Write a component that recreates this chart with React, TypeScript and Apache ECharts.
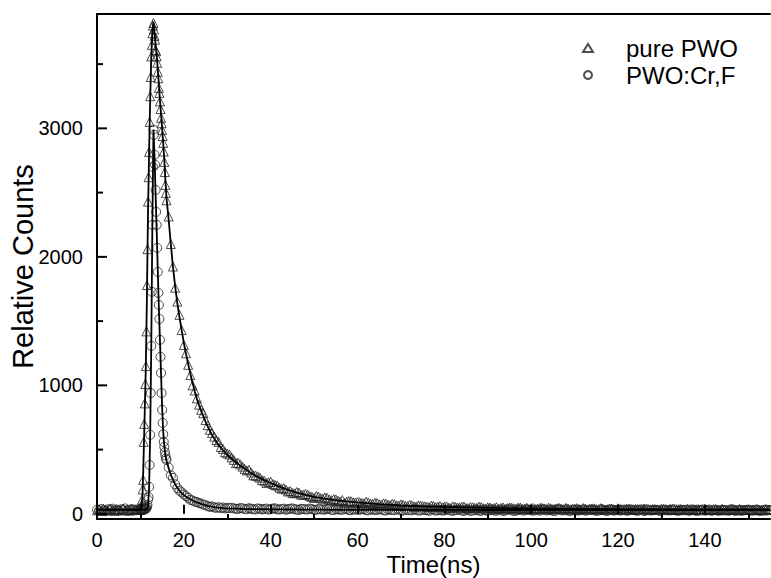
import React, { useEffect, useRef } from "react";
import * as echarts from "echarts";

// ---- sample times (ns) ----
const timeBase = [0, 0.5, 1, 1.5, 2, 2.5, 3, 3.5, 4, 4.5, 5, 5.5, 6, 6.5, 7, 7.5, 8, 8.5, 9, 9.5, 10];
const timePeak = [10.125, 10.25, 10.375, 10.5, 10.625, 10.75, 10.875, 11, 11.125, 11.25, 11.375, 11.5, 11.625, 11.75, 11.875, 12,
  12.125, 12.25, 12.375, 12.5, 12.625, 12.75, 12.875, 13, 13.125, 13.25, 13.375, 13.5, 13.625, 13.75, 13.875, 14,
  14.125, 14.25, 14.375, 14.5, 14.625, 14.75, 14.875, 15, 15.125, 15.25, 15.375, 15.5, 15.625, 15.75, 15.875, 16];
const timeDecay = [16.5, 17, 17.5, 18, 18.5, 19, 19.5, 20, 20.5, 21, 21.5, 22, 22.5, 23, 23.5, 24, 24.5, 25, 25.5, 26, 26.5, 27, 27.5, 28, 28.5, 29, 29.5, 30];
const timeTail = [31, 32, 33, 34, 35, 36, 37, 38, 39, 40, 41, 42, 43, 44, 45, 46, 47, 48, 49, 50, 51, 52, 53, 54, 55, 56, 57, 58, 59, 60,
  61, 62, 63, 64, 65, 66, 67, 68, 69, 70, 71, 72, 73, 74, 75, 76, 77, 78, 79, 80, 81, 82, 83, 84, 85, 86, 87, 88, 89, 90,
  91, 92, 93, 94, 95, 96, 97, 98, 99, 100, 101, 102, 103, 104, 105, 106, 107, 108, 109, 110, 111, 112, 113, 114, 115, 116, 117, 118, 119, 120,
  121, 122, 123, 124, 125, 126, 127, 128, 129, 130, 131, 132, 133, 134, 135, 136, 137, 138, 139, 140, 141, 142, 143, 144, 145, 146, 147, 148, 149, 150,
  151, 152, 153, 154, 155];
const timeTailHalf = [30.5, 31.5, 32.5, 33.5, 34.5, 35.5, 36.5, 37.5, 38.5, 39.5, 40.5, 41.5, 42.5, 43.5, 44.5, 45.5, 46.5, 47.5, 48.5, 49.5,
  50.5, 51.5, 52.5, 53.5, 54.5, 55.5, 56.5, 57.5, 58.5, 59.5, 60.5, 61.5, 62.5, 63.5, 64.5, 65.5, 66.5, 67.5, 68.5, 69.5,
  70.5, 71.5, 72.5, 73.5, 74.5, 75.5, 76.5, 77.5, 78.5, 79.5, 80.5, 81.5, 82.5, 83.5, 84.5, 85.5, 86.5, 87.5, 88.5, 89.5,
  90.5, 91.5, 92.5, 93.5, 94.5, 95.5, 96.5, 97.5, 98.5, 99.5, 100.5, 101.5, 102.5, 103.5, 104.5, 105.5, 106.5, 107.5, 108.5, 109.5,
  110.5, 111.5, 112.5, 113.5, 114.5, 115.5, 116.5, 117.5, 118.5, 119.5, 120.5, 121.5, 122.5, 123.5, 124.5, 125.5, 126.5, 127.5, 128.5, 129.5,
  130.5, 131.5, 132.5, 133.5, 134.5, 135.5, 136.5, 137.5, 138.5, 139.5, 140.5, 141.5, 142.5, 143.5, 144.5, 145.5, 146.5, 147.5, 148.5, 149.5,
  150.5, 151.5, 152.5, 153.5, 154.5];

// ---- pure PWO measured counts ----
const pureBase = [28, 35, 22, 40, 31, 26, 38, 30, 24, 36, 33, 29, 41, 27, 34, 25, 37, 30, 32, 38, 45];
const purePeak = [48, 70, 110, 190, 265, 560, 700, 860, 1010, 1150, 1420, 1780, 2060, 2430, 2620, 2817,
  3050, 3250, 3400, 3560, 3650, 3740, 3800, 3820, 3770, 3720, 3690, 3610, 3600, 3560, 3510, 3440,
  3390, 3315, 3276, 3210, 3150, 3082, 3040, 2988, 2940, 2887, 2820, 2739, 2660, 2560, 2498, 2440];
const pureDecay = [2314, 2100, 1925, 1760, 1652, 1549, 1430, 1315, 1250, 1160, 1080, 1000, 960, 899, 850, 810, 783, 730, 690, 654, 630, 601, 574, 560, 520, 505, 480, 470];
const pureTail = [440, 395, 385, 350, 342, 300, 292, 264, 241, 250, 225, 205, 200, 174, 163, 170, 150, 155, 138, 124, 135, 118, 125, 105, 112, 96, 86, 100, 90, 92,
  84, 95, 80, 86, 74, 82, 70, 78, 66, 72, 62, 70, 58, 66, 60, 55, 64, 52, 60, 56, 48, 58, 50, 55, 45, 53, 47, 56, 44, 50,
  42, 52, 46, 40, 50, 43, 48, 38, 47, 44, 36, 46, 40, 48, 37, 44, 39, 46, 35, 42, 38, 45, 34, 41, 37, 44, 33, 40, 36, 43,
  35, 41, 32, 39, 36, 42, 31, 38, 35, 41, 33, 39, 30, 37, 34, 40, 31, 36, 33, 39, 30, 37, 32, 38, 29, 36, 33, 39, 30, 35,
  32, 38, 29, 35, 33];
const pureTailHalf = [462, 420, 398, 368, 338, 322, 298, 282, 258, 246, 232, 220, 196, 190, 178, 160, 166, 148, 150, 132,
  138, 122, 128, 112, 116, 102, 108, 94, 98, 88, 90, 82, 88, 78, 84, 72, 80, 68, 75, 64,
  70, 60, 67, 56, 64, 58, 52, 61, 55, 50, 58, 46, 54, 49, 57, 44, 51, 46, 53, 42,
  49, 45, 38, 50, 44, 47, 40, 49, 42, 37, 45, 41, 47, 36, 43, 40, 46, 35, 42, 38,
  44, 34, 41, 37, 43, 33, 40, 36, 42, 32, 39, 35, 41, 31, 38, 34, 40, 30, 37, 33,
  39, 30, 36, 32, 38, 29, 35, 31, 37, 28, 34, 31, 36, 28, 33, 30, 35, 27, 32, 29,
  34, 28, 31, 27, 33];

// ---- PWO:Cr,F measured counts ----
const crBase = [32, 25, 38, 29, 22, 36, 31, 40, 27, 33, 24, 35, 30, 42, 26, 31, 37, 28, 34, 30, 36];
const crPeak = [30, 38, 28, 35, 30, 40, 33, 38, 36, 45, 42, 55, 70, 110, 130, 210,
  380, 615, 940, 1307, 1728, 2249, 2700, 2990, 2950, 2794, 2716, 2521, 2350, 2249, 2070, 1883,
  1720, 1626, 1517, 1354, 1222, 1097, 940, 809, 708, 620, 560, 521, 480, 455, 432, 420];
const crDecay = [360, 300, 280, 230, 200, 180, 168, 150, 138, 125, 109, 104, 95, 92, 84, 80, 72, 68, 60, 54, 58, 50, 47, 52, 44, 49, 42, 46];
const crTail = [47, 40, 45, 38, 44, 36, 42, 35, 41, 37, 43, 34, 40, 36, 42, 33, 39, 35, 41, 32, 38, 34, 40, 31, 37, 33, 39, 30, 36, 32,
  38, 29, 35, 31, 37, 28, 34, 30, 36, 27, 33, 29, 35, 26, 32, 28, 34, 25, 31, 27, 33, 24, 30, 26, 32, 23, 29, 25, 31, 22,
  30, 24, 33, 27, 35, 23, 31, 26, 34, 28, 32, 25, 36, 29, 24, 33, 27, 35, 22, 30, 26, 34, 28, 31, 23, 36, 27, 32, 25, 33,
  29, 24, 35, 27, 31, 22, 34, 28, 30, 25, 33, 27, 36, 24, 30, 28, 35, 23, 31, 26, 34, 29, 25, 32, 27, 36, 24, 30, 28, 33,
  26, 31, 25, 34, 29];
const crTailHalf = [45, 42, 38, 43, 36, 40, 34, 39, 37, 33, 41, 35, 38, 32, 40, 36, 30, 38, 34, 37,
  31, 36, 33, 39, 29, 35, 32, 37, 28, 34, 31, 36, 27, 33, 30, 35, 26, 32, 29, 34,
  25, 31, 28, 33, 27, 30, 24, 32, 28, 26, 31, 25, 29, 34, 23, 30, 27, 32, 24, 29,
  33, 26, 30, 22, 32, 28, 25, 34, 27, 31, 24, 29, 33, 26, 30, 23, 35, 28, 25, 32,
  27, 31, 24, 34, 29, 26, 30, 22, 33, 28, 25, 32, 27, 30, 23, 34, 28, 26, 31, 24,
  30, 27, 33, 25, 29, 32, 24, 31, 26, 34, 28, 23, 32, 27, 30, 25, 33, 29, 24, 31,
  27, 32, 25, 30, 28];

// ---- fitted curves ----
const fitTimeRise = [0, 10, 10.25, 10.5, 10.75, 11, 11.25, 11.5, 11.75, 12, 12.25, 12.5, 12.75, 13, 13.25, 13.5, 13.75, 14, 14.25, 14.5, 14.75, 15, 15.25, 15.5, 15.75, 16];
const fitTimeTail = [32, 34, 36, 38, 40, 42, 44, 46, 48, 50, 52, 54, 56, 58, 60, 65, 70, 75, 80, 85, 90, 95, 100, 105, 110, 115, 120, 125, 130, 135, 140, 145, 150, 155];
const fitPureRise = [32, 32, 60, 160, 460, 800, 1150, 1700, 2350, 2820, 3230, 3550, 3760, 3830, 3740, 3650, 3570, 3460, 3340, 3220, 3110, 3000, 2880, 2760, 2600, 2460];
const fitPureDecay = [2290, 2100, 1920, 1770, 1640, 1530, 1430, 1330, 1245, 1165, 1090, 1020, 955, 895, 845, 800, 758, 718, 680, 645, 614, 586, 560, 537, 515, 495, 476, 458];
const fitPureTail = [400, 352, 306, 270, 240, 212, 186, 165, 148, 133, 121, 111, 102, 95, 89, 76, 66, 59, 54, 50, 47, 44, 42, 40, 39, 38, 37, 36, 36, 35, 35, 34, 34, 34];
const fitCrRise = [32, 32, 32, 32, 32, 32, 33, 35, 60, 200, 620, 1310, 2250, 2990, 2780, 2480, 2200, 1890, 1600, 1350, 1090, 830, 640, 530, 460, 415];
const fitCrDecay = [355, 305, 265, 230, 202, 180, 162, 147, 134, 123, 113, 104, 96, 89, 83, 77, 72, 67, 63, 59, 56, 53, 50, 48, 46, 44, 43, 42];
const fitCrTail = [40, 38, 37, 36, 35, 35, 34, 34, 33, 33, 33, 32, 32, 32, 32, 31, 31, 31, 31, 31, 30, 30, 30, 30, 30, 30, 30, 30, 30, 30, 30, 30, 30, 30];

// ---- axis ticks ----
const xMajorTicks = [0, 20, 40, 60, 80, 100, 120, 140];
const xMinorTicks = [10, 30, 50, 70, 90, 110, 130, 150];
const yMajorTicks = [0, 1000, 2000, 3000];
const yMinorTicks = [500, 1500, 2500, 3500];

const zip = (xs: number[], ys: number[]) => {
  const n = Math.min(xs.length, ys.length);
  const out: number[][] = [];
  for (let i = 0; i < n; i++) out.push([xs[i], ys[i]]);
  return out;
};

const FONT = "'Liberation Sans', Arial, Helvetica, sans-serif";
const plain = (v: number) => String(v);

const tickAxis = (min: number, max: number, position: string, ticks: number[], length: number) => ({
  type: "value", min, max, position, z: 5,
  axisLine: { show: false },
  axisTick: { show: true, inside: true, length, lineStyle: { color: "#000", width: 2 }, customValues: ticks },
  axisLabel: { show: false },
  splitLine: { show: false },
});

export default function App() {
  const ref = useRef<HTMLDivElement>(null);
  useEffect(() => {
    if (!ref.current) return;
    const chart = echarts.init(ref.current, undefined, { renderer: "svg" });
    const allT = [...timeBase, ...timePeak, ...timeDecay, ...timeTail, ...timeTailHalf];
    const pureData = zip(allT, [...pureBase, ...purePeak, ...pureDecay, ...pureTail, ...pureTailHalf]);
    const crData = zip(allT, [...crBase, ...crPeak, ...crDecay, ...crTail, ...crTailHalf]);
    const fitT = [...fitTimeRise, ...timeDecay, ...fitTimeTail];
    const fitPure = zip(fitT, [...fitPureRise, ...fitPureDecay, ...fitPureTail]);
    const fitCr = zip(fitT, [...fitCrRise, ...fitCrDecay, ...fitCrTail]);
    const yTickData = [...yMajorTicks, ...yMinorTicks].map((v) => [0, v]);

    const axisLine = { show: true, onZero: false, lineStyle: { color: "#000", width: 2 } };
    chart.setOption({
      animation: false,
      backgroundColor: "#fff",
      grid: { left: 97, right: 1, top: 14, bottom: 59, containLabel: false, outerBoundsMode: "none" },
      legend: {
        data: ["pure PWO", "PWO:Cr,F"],
        orient: "vertical",
        left: 577,
        top: 31,
        itemWidth: 10,
        itemHeight: 8,
        itemGap: 3,
        textStyle: { fontSize: 24, color: "#000", fontFamily: FONT, padding: [0, 0, 0, 28] },
      },
      xAxis: [
        {
          type: "value", min: 0, max: 155, position: "bottom", z: 5,
          axisLine,
          axisTick: { show: false },
          axisLabel: { customValues: xMajorTicks, formatter: plain, fontSize: 20, color: "#000", fontFamily: FONT, margin: 11 },
          splitLine: { show: false },
          name: "Time(ns)", nameLocation: "middle", nameGap: 33, nameMoveOverlap: false,
          nameTextStyle: { fontSize: 24, color: "#000", fontFamily: FONT },
        },
        tickAxis(0, 155, "bottom", xMajorTicks, 9),
        tickAxis(0, 155, "bottom", xMinorTicks, 5),
        {
          type: "value", min: 0, max: 155, position: "top", z: 5,
          axisLine,
          axisTick: { show: false },
          axisLabel: { show: false },
          splitLine: { show: false },
        },
      ],
      yAxis: [
        {
          type: "value", min: -40, max: 3890, position: "left", z: 5,
          axisLine,
          axisTick: { show: false },
          axisLabel: { customValues: yMajorTicks, formatter: plain, fontSize: 20, color: "#000", fontFamily: FONT, margin: 14 },
          splitLine: { show: false },
          name: "Relative Counts", nameLocation: "middle", nameGap: 60, nameRotate: 90, nameMoveOverlap: false,
          nameTextStyle: { fontSize: 29, color: "#000", fontFamily: FONT },
        },
      ],
      series: [
        {
          name: "pure PWO", type: "scatter", xAxisIndex: 0, yAxisIndex: 0,
          symbol: "triangle", symbolSize: 9, data: pureData,
          itemStyle: { color: "rgba(0,0,0,0)", borderColor: "#222", borderWidth: 1 },
          emphasis: { disabled: true }, silent: true,
        },
        {
          name: "PWO:Cr,F", type: "scatter", xAxisIndex: 0, yAxisIndex: 0,
          symbol: "circle", symbolSize: 9, data: crData,
          itemStyle: { color: "rgba(0,0,0,0)", borderColor: "#222", borderWidth: 1 },
          emphasis: { disabled: true }, silent: true,
        },
        {
          name: "fit pure", type: "line", xAxisIndex: 0, yAxisIndex: 0,
          data: fitPure, showSymbol: false, symbol: "none",
          lineStyle: { color: "#000", width: 1.8 }, silent: true,
        },
        {
          name: "fit cr", type: "line", xAxisIndex: 0, yAxisIndex: 0,
          data: fitCr, showSymbol: false, symbol: "none",
          lineStyle: { color: "#000", width: 1.8 }, silent: true,
        },
        {
          name: "y ticks", type: "custom", xAxisIndex: 0, yAxisIndex: 0,
          data: yTickData, silent: true, z: 6, clip: false,
          renderItem: (params: any, api: any) => {
            const v = api.value(1);
            const p = api.coord([api.value(0), v]);
            const len = v % 1000 === 0 ? 10 : 6;
            return {
              type: "line",
              shape: { x1: p[0], y1: p[1], x2: p[0] + len, y2: p[1] },
              style: { stroke: "#000", lineWidth: 2 },
            };
          },
        },
      ],
    });
    return () => chart.dispose();
  }, []);
  return <div ref={ref} style={{ width: 771, height: 578, position: "absolute", left: 0, top: 0 }} />;
}
